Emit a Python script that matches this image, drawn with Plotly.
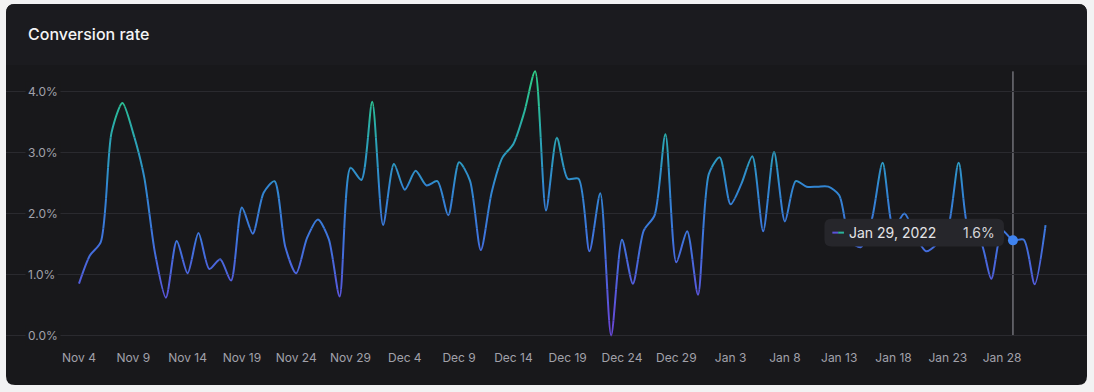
import plotly.graph_objects as go
import pandas as pd

# ---------------- data ----------------
start_date = "2021-11-04"
n_days = 90
dates = [d.strftime("%Y-%m-%d") for d in pd.date_range(start_date, periods=n_days, freq="D")]

conversion_rate = [
    0.85, 1.31, 1.53, 3.33, 3.81, 3.31, 2.60, 1.35, 0.62, 1.55,
    1.02, 1.68, 1.09, 1.25, 0.90, 2.10, 1.67, 2.34, 2.53, 1.45,
    1.02, 1.60, 1.90, 1.58, 0.64, 2.75, 2.55, 3.83, 1.81, 2.81,
    2.39, 2.70, 2.46, 2.53, 1.97, 2.84, 2.54, 1.40, 2.35, 2.92,
    3.14, 3.66, 4.33, 2.05, 3.24, 2.57, 2.57, 1.38, 2.33, 0.00,
    1.57, 0.85, 1.72, 1.97, 3.30, 1.20, 1.71, 0.67, 2.65, 2.92,
    2.15, 2.49, 2.94, 1.71, 3.01, 1.87, 2.53, 2.44, 2.44, 2.44,
    2.30, 1.55, 1.45, 1.90, 2.83, 1.75, 2.00, 1.65, 1.38, 1.50,
    1.75, 2.83, 1.65, 1.55, 0.93, 1.72, 1.56, 1.57, 0.84, 1.81,
]

y_tick_values = [0, 1, 2, 3, 4]
y_tick_labels = ["0.0%", "1.0%", "2.0%", "3.0%", "4.0%"]

x_tick_dates = dates[0:86:5]
x_tick_labels = ["Nov 4", "Nov 9", "Nov 14", "Nov 19", "Nov 24", "Nov 29",
                 "Dec 4", "Dec 9", "Dec 14", "Dec 19", "Dec 24", "Dec 29",
                 "Jan 3", "Jan 8", "Jan 13", "Jan 18", "Jan 23", "Jan 28"]

title_text = "Conversion rate"
hover_index = 86
hover_label = "Jan 29, 2022"

# ---------------- layout geometry (pixels) ----------------
W, H = 1094, 392
CARD_L, CARD_T, CARD_R, CARD_B = 6, 4, 1087, 385
HEADER_B = 65
X0_PX = 79.0          # pixel of first date
PX_PER_DAY = 10.86
Y0_PX = 335.5         # pixel of 0 %
PX_PER_PCT = 61.0
PLOT_TOP_PX, PLOT_BOT_PX = 60.0, 346.0

BODY = "#18181b"
HEADER = "#1b1b1f"
OUTER = "#f2f2f3"
GRID = "#2a2a2f"
TICK = "#a1a1aa"
FONT = "Inter"


def fy(py):
    return 1 - py / H


def v_at(py):
    return (Y0_PX - py) / PX_PER_PCT


start = pd.Timestamp(start_date)
x_range = [
    (start - pd.Timedelta(days=(X0_PX - CARD_L) / PX_PER_DAY)).strftime("%Y-%m-%d %H:%M:%S"),
    (start + pd.Timedelta(days=(CARD_R - X0_PX) / PX_PER_DAY)).strftime("%Y-%m-%d %H:%M:%S"),
]
x_domain = [CARD_L / W, CARD_R / W]

# gradient stops (value %, rgb)
stops = [
    (0.0, (106, 70, 214)),
    (0.8, (84, 92, 220)),
    (1.6, (62, 116, 220)),
    (2.4, (50, 134, 210)),
    (3.0, (44, 157, 190)),
    (3.6, (42, 180, 158)),
    (4.3, (46, 206, 136)),
]


def color_at(v):
    if v <= stops[0][0]:
        c = stops[0][1]
    elif v >= stops[-1][0]:
        c = stops[-1][1]
    else:
        for (a, ca), (b, cb) in zip(stops[:-1], stops[1:]):
            if a <= v <= b:
                t = (v - a) / (b - a)
                c = tuple(round(ca[i] + (cb[i] - ca[i]) * t) for i in range(3))
                break
    return "rgb(%d,%d,%d)" % c


def rrect(l, t, r, b, rad, top_only=False):
    # pixel path relative to an anchor; y offsets upward positive
    def P(x, y):
        return "%.2f,%.2f" % (x, -y)
    if top_only:
        return ("M " + P(l, b) + " L " + P(l, t + rad) + " Q " + P(l, t) + " " + P(l + rad, t) +
                " L " + P(r - rad, t) + " Q " + P(r, t) + " " + P(r, t + rad) +
                " L " + P(r, b) + " Z")
    return ("M " + P(l + rad, t) + " L " + P(r - rad, t) + " Q " + P(r, t) + " " + P(r, t + rad) +
            " L " + P(r, b - rad) + " Q " + P(r, b) + " " + P(r - rad, b) +
            " L " + P(l + rad, b) + " Q " + P(l, b) + " " + P(l, b - rad) +
            " L " + P(l, t + rad) + " Q " + P(l, t) + " " + P(l + rad, t) + " Z")


fig = go.Figure()
layout = dict(
    width=W, height=H,
    margin=dict(l=0, r=0, t=0, b=0),
    paper_bgcolor=OUTER,
    plot_bgcolor="rgba(0,0,0,0)",
    showlegend=False,
    hovermode=False,
    font=dict(family=FONT, color=TICK, size=12),
    xaxis=dict(
        type="date", range=x_range, domain=x_domain, anchor="y",
        tickvals=x_tick_dates, ticktext=x_tick_labels,
        showgrid=False, zeroline=False, showline=False, ticks="",
        tickfont=dict(family=FONT, size=12, color=TICK),
        ticklabelstandoff=3, fixedrange=True,
    ),
    yaxis=dict(
        domain=[fy(PLOT_BOT_PX), fy(PLOT_TOP_PX)],
        range=[v_at(PLOT_BOT_PX), v_at(PLOT_TOP_PX)],
        tickvals=y_tick_values, showticklabels=False,
        showgrid=True, gridcolor=GRID, gridwidth=1,
        zeroline=False, showline=False, ticks="", fixedrange=True,
    ),
)

# gradient line: same series drawn in thin horizontal bands, each clipped to its own axis
band_w = 0.25
band_lo = -0.25
n_bands = 19
for k in range(n_bands):
    a = band_lo + k * band_w
    b = a + band_w
    ax_name = "yaxis%d" % (k + 2)
    layout[ax_name] = dict(
        domain=[fy(Y0_PX - a * PX_PER_PCT), fy(Y0_PX - b * PX_PER_PCT)],
        range=[a, b], visible=False, showgrid=False, zeroline=False, fixedrange=True,
        anchor="x",
    )
    fig.add_trace(go.Scatter(
        x=dates, y=conversion_rate, xaxis="x", yaxis="y%d" % (k + 2),
        mode="lines",
        line=dict(shape="spline", smoothing=0.75, width=2,
                  color=color_at((a + b) / 2), simplify=False),
        hoverinfo="skip", showlegend=False,
    ))

# top axis for the hover dot
top_ax = n_bands + 2
layout["yaxis%d" % top_ax] = dict(
    domain=[fy(PLOT_BOT_PX), fy(PLOT_TOP_PX)],
    range=[v_at(PLOT_BOT_PX), v_at(PLOT_TOP_PX)],
    visible=False, showgrid=False, zeroline=False, fixedrange=True, anchor="x",
)
fig.add_trace(go.Scatter(
    x=[dates[hover_index]], y=[conversion_rate[hover_index]],
    xaxis="x", yaxis="y%d" % top_ax, mode="markers",
    marker=dict(size=10, color="#3f83f0"), hoverinfo="skip", showlegend=False,
))

fig.update_layout(**layout)

hx = dates[hover_index]
hv = conversion_rate[hover_index]
shapes = [
    # card body
    dict(type="path", xref="paper", yref="paper", xsizemode="pixel", ysizemode="pixel",
         xanchor=0, yanchor=1, path=rrect(CARD_L, CARD_T, CARD_R, CARD_B, 9),
         fillcolor=BODY, line=dict(width=0), layer="below"),
    # header band
    dict(type="path", xref="paper", yref="paper", xsizemode="pixel", ysizemode="pixel",
         xanchor=0, yanchor=1, path=rrect(CARD_L, CARD_T, CARD_R, HEADER_B, 9, top_only=True),
         fillcolor=HEADER, line=dict(width=0), layer="below"),
    # hover guide line
    dict(type="line", xref="x", yref="y", x0=hx, x1=hx, y0=0, y1=max(conversion_rate),
         line=dict(color="#9d9da5", width=1), layer="below"),
    # tooltip box
    dict(type="path", xref="x", yref="y", xsizemode="pixel", ysizemode="pixel",
         xanchor=hx, yanchor=hv, path=rrect(-188.5, -21.5, -9, 6.2, 7),
         fillcolor="#26262b", line=dict(width=0), layer="above"),
    # legend swatch in tooltip (two-tone)
    dict(type="line", xref="x", yref="y", xsizemode="pixel", ysizemode="pixel",
         xanchor=hx, yanchor=hv, x0=-180.6, x1=-174.8, y0=7.7, y1=7.7,
         line=dict(color="#5a52d8", width=2), layer="above"),
    dict(type="line", xref="x", yref="y", xsizemode="pixel", ysizemode="pixel",
         xanchor=hx, yanchor=hv, x0=-174.8, x1=-169.0, y0=7.7, y1=7.7,
         line=dict(color="#2bb39a", width=2), layer="above"),
]
fig.update_layout(shapes=shapes)

annotations = [
    dict(text=title_text, xref="paper", yref="paper", x=26 / W, y=fy(34), xanchor="left",
         yanchor="middle", showarrow=False,
         font=dict(family=FONT, size=16, color="#f4f4f5", weight=500)),
    dict(text=hover_label, xref="x", yref="y", x=hx, y=hv, xanchor="left", yanchor="middle",
         xshift=-165.5, yshift=7.7, showarrow=False,
         font=dict(family=FONT, size=14, color="#e4e4e7")),
    dict(text="%.1f%%" % hv, xref="x", yref="y", x=hx, y=hv, xanchor="right", yanchor="middle",
         xshift=-16.3, yshift=7.7, showarrow=False,
         font=dict(family=FONT, size=14, color="#d4d4d8")),
]
for v, lab in zip(y_tick_values, y_tick_labels):
    annotations.append(dict(
        text=lab, xref="paper", yref="y", x=25 / W, y=v, xanchor="left", yanchor="middle",
        showarrow=False, bgcolor=BODY, borderpad=2,
        font=dict(family=FONT, size=12, color=TICK),
    ))
fig.update_layout(annotations=annotations)

fig.write_html(
    "out.html",
    config={"displayModeBar": False},
    post_script="document.body.style.margin='0';document.body.style.background='%s';" % OUTER,
)
